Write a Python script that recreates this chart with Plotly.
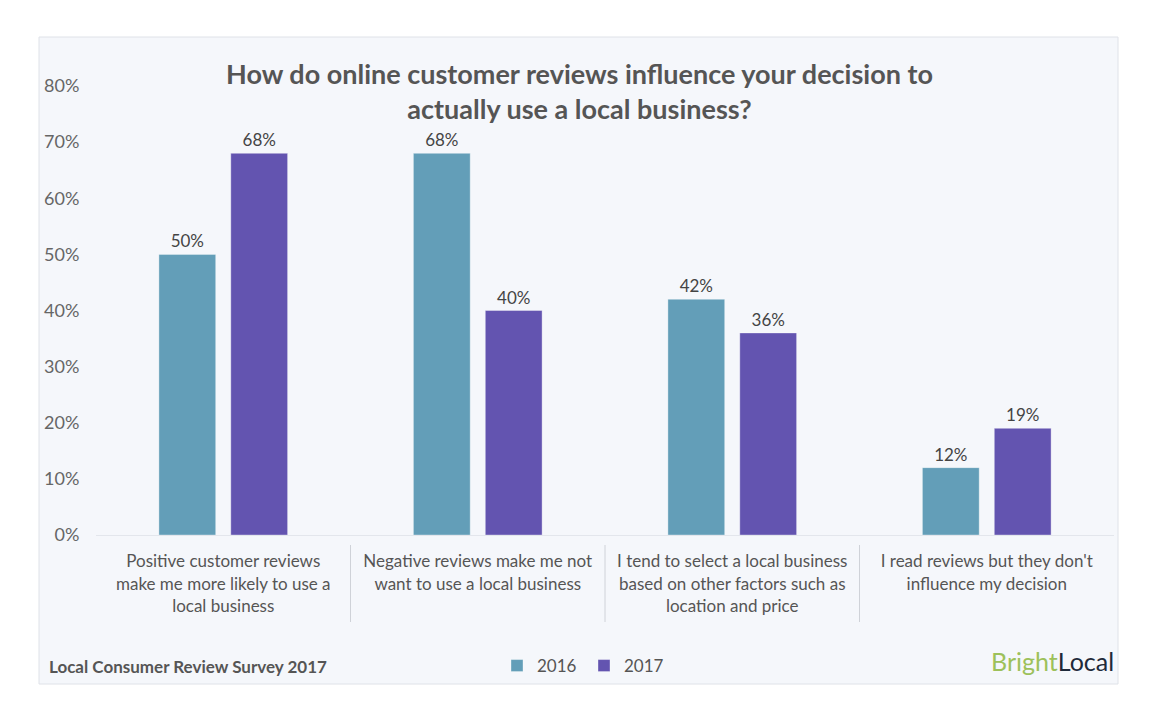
import plotly.graph_objects as go

categories = [
    "Positive customer reviews<br>make me more likely to use a<br>local business",
    "Negative reviews make me not<br>want to use a local business",
    "I tend to select a local business<br>based on other factors such as<br>location and price",
    "I read reviews but they don't<br>influence my decision",
]
values_2016 = [50, 68, 42, 12]
values_2017 = [68, 40, 36, 19]
series_names = ["2016", "2017"]
colors = ["#639eb8", "#6354b0"]
y_ticks = [0, 10, 20, 30, 40, 50, 60, 70, 80]

FONT = "Lato"
W, H = 1160, 714
OFF = 8  # page body margin
L, R, T, B = 96 - OFF, 1160 - (1114 - OFF), 86 - OFF, 714 - (535 - OFF)
PW, PH = W - L - R, H - T - B

def px2x(px):
    return (px - OFF - L) / PW

def py2y(py):
    return (H - B - (py - OFF)) / PH

fig = go.Figure()
for name, vals, col in zip(series_names, [values_2016, values_2017], colors):
    fig.add_trace(go.Bar(
        x=categories, y=vals, name=name,
        marker=dict(color=col, line=dict(color="rgba(255,255,255,0.35)", width=1)),
        text=[f"{v}%" for v in vals], textposition="outside",
        textfont=dict(family=FONT, size=17, color="#444444"),
        cliponaxis=False,
    ))

shapes = [
    dict(type="rect", xref="paper", yref="paper", layer="below",
         x0=px2x(39), x1=px2x(1118), y0=py2y(684), y1=py2y(37),
         fillcolor="#f5f7fb", line=dict(color="#dfe2e8", width=1)),
]
for b in [0.5, 1.5, 2.5]:
    shapes.append(dict(type="line", xref="x", yref="paper", x0=b, x1=b,
                       y0=py2y(545), y1=py2y(622),
                       line=dict(color="#cfd2d8", width=1)))

annotations = [
    dict(text="<b>How do online customer reviews influence your decision to<br>actually use a local business?</b>",
         xref="paper", yref="paper", x=px2x(579), y=py2y(91), xanchor="center", yanchor="middle",
         showarrow=False, font=dict(family=FONT, size=27, color="#555555")),
    dict(text="<b>Local Consumer Review Survey 2017</b>", xref="paper", yref="paper",
         x=px2x(47), y=py2y(666), xanchor="left", yanchor="middle", showarrow=False,
         font=dict(family=FONT, size=17, color="#555555")),
    dict(text="<span style='color:#9dc15a'>Bright</span><span style='color:#1e2a3a'>Local</span>",
         xref="paper", yref="paper", x=px2x(1116), y=py2y(661), xanchor="right", yanchor="middle",
         showarrow=False, font=dict(family="Lato", size=25)),
]

fig.update_layout(
    width=W, height=H,
    margin=dict(l=L, r=R, t=T, b=B),
    paper_bgcolor="white", plot_bgcolor="rgba(0,0,0,0)",
    barmode="group", bargap=0.435, bargroupgap=0.21,
    font=dict(family=FONT, size=17, color="#555555"),
    showlegend=True,
    legend=dict(orientation="h", x=px2x(584), y=py2y(666), xanchor="center", yanchor="middle",
                bgcolor="rgba(0,0,0,0)", font=dict(family=FONT, size=17, color="#555555"),
                itemwidth=30, entrywidth=42, entrywidthmode="pixels", traceorder="normal"),
    shapes=shapes, annotations=annotations,
    xaxis=dict(showgrid=False, showline=True, linecolor="#e3e6ec", linewidth=1,
               ticks="outside", ticklen=11, tickcolor="rgba(0,0,0,0)",
               tickfont=dict(family=FONT, size=17, color="#555555")),
    yaxis=dict(range=[0, 80], tickvals=y_ticks, ticktext=[f"{v}%" for v in y_ticks],
               showgrid=False, zeroline=False, ticks="outside", ticklen=12,
               tickcolor="rgba(0,0,0,0)",
               tickfont=dict(family=FONT, size=18, color="#666666")),
)

fig.write_html("out.html")
